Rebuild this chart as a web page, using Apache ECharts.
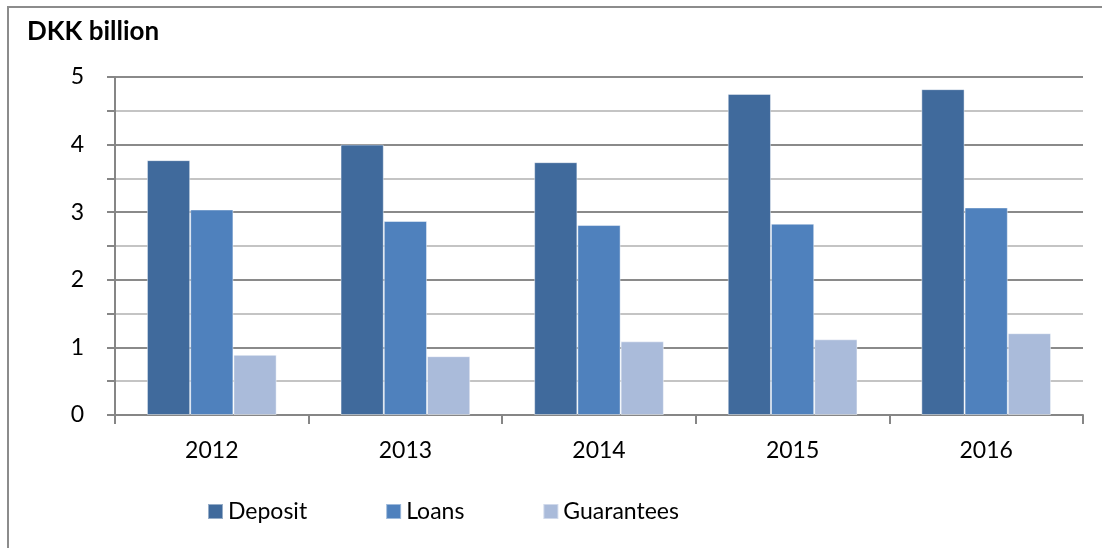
<!DOCTYPE html>
<html>
<head>
<meta charset="utf-8">
<script src="https://cdn.jsdelivr.net/npm/echarts@6/dist/echarts.min.js"></script>
<style>
  html, body { margin: 0; padding: 0; background: #fff; }
  #frame {
    position: absolute; left: 7px; top: 6px; width: 1200px; height: 700px;
    border-top: 2px solid #8c8c8c; border-left: 2px solid #8c8c8c;
  }
  #chart { position: absolute; left: 0; top: 0; width: 1102px; height: 548px; }
</style>
</head>
<body>
<div id="frame"></div>
<div id="chart"></div>
<script>
// Yearly amounts, DKK billion
const years = ['2012', '2013', '2014', '2015', '2016'];
const deposit = [3.77, 4.00, 3.74, 4.75, 4.82];
const loans = [3.04, 2.87, 2.81, 2.83, 3.07];
const guarantees = [0.89, 0.87, 1.09, 1.12, 1.21];
const yTicks = [0, 1, 2, 3, 4, 5];

const FONT = 'Lato, "Open Sans", sans-serif';
const barBorder = { borderColor: 'rgba(255,255,255,0.45)', borderWidth: 1 };

const chart = echarts.init(document.getElementById('chart'), null, { renderer: 'canvas' });
chart.setOption({
  backgroundColor: 'transparent',
  animation: false,
  title: {
    text: 'DKK billion',
    left: 22, top: 14,
    textStyle: { fontFamily: FONT, fontSize: 26, fontWeight: 'bold', color: '#000' }
  },
  legend: {
    bottom: 20, left: 202,
    itemWidth: 15, itemHeight: 15, itemGap: 78,
    icon: 'rect',
    textStyle: { fontFamily: FONT, fontSize: 23, color: '#000' },
    data: ['Deposit', 'Loans', 'Guarantees']
  },
  grid: { left: 115, right: 19, top: 77, bottom: 133, containLabel: false },
  xAxis: {
    type: 'category',
    data: years,
    axisLine: { lineStyle: { color: '#868686', width: 2 } },
    axisTick: { show: true, length: 9, alignWithLabel: false, lineStyle: { color: '#868686', width: 2 } },
    axisLabel: { margin: 24, fontFamily: FONT, fontSize: 23, color: '#000' }
  },
  yAxis: {
    type: 'value',
    min: yTicks[0], max: yTicks[yTicks.length - 1], interval: 1,
    axisLine: { show: true, lineStyle: { color: '#868686', width: 2 } },
    axisTick: { show: true, length: 8, lineStyle: { color: '#868686', width: 2 } },
    minorTick: { show: true, splitNumber: 2, length: 8, lineStyle: { color: '#868686', width: 2 } },
    axisLabel: { margin: 31, fontFamily: FONT, fontSize: 23, color: '#000' },
    splitLine: { show: true, lineStyle: { color: '#8a8a8a', width: 2 } },
    minorSplitLine: { show: true, lineStyle: { color: '#c4c4c4', width: 2 } }
  },
  series: [
    { name: 'Deposit', type: 'bar', data: deposit, barGap: '0%', barCategoryGap: '33%',
      itemStyle: Object.assign({ color: '#406a9c' }, barBorder) },
    { name: 'Loans', type: 'bar', data: loans,
      itemStyle: Object.assign({ color: '#4f81bd' }, barBorder) },
    { name: 'Guarantees', type: 'bar', data: guarantees,
      itemStyle: Object.assign({ color: '#aabbda' }, barBorder) }
  ]
});
</script>
</body>
</html>
